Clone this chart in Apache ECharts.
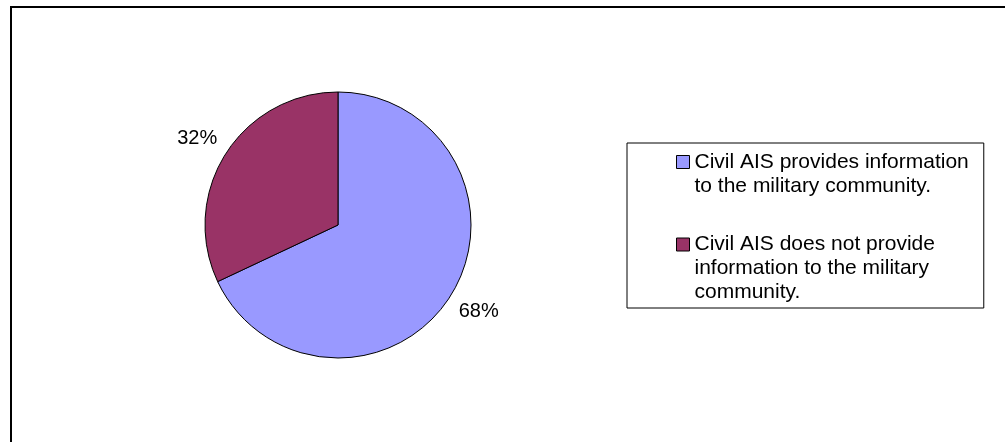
<!DOCTYPE html>
<html><head><meta charset="utf-8">
<script src="https://cdn.jsdelivr.net/npm/echarts@6/dist/echarts.min.js"></script>
<style>html,body{margin:0;padding:0;background:#fff}#c{width:1005px;height:442px}</style>
</head><body><div id="c"></div>
<script>
const categories = [
  'Civil AIS provides information\nto the military community.',
  'Civil AIS does not provide\ninformation to the military\ncommunity.'
];
const shares = [68, 32];
const sliceColors = ['#9999FF', '#993366'];

const chart = echarts.init(document.getElementById('c'), null, {renderer: 'canvas'});
const CX = 338, CY = 225, R = 133, LABEL_GAP = 10;
const total = shares.reduce((a, b) => a + b, 0);
function midAngle(i) {
  let before = 0;
  for (let k = 0; k < i; k++) before += shares[k];
  return (before + shares[i] / 2) / total * 2 * Math.PI;
}
const option = {
  animation: false,
  backgroundColor: '#fff',
  textStyle: {fontFamily: '"Liberation Sans", Arial, sans-serif'},
  graphic: [{
    type: 'rect', silent: true, z: -1,
    shape: {x: 11, y: 7, width: 1100, height: 600},
    style: {fill: 'none', stroke: '#000', lineWidth: 2}
  }],
  legend: {
    orient: 'vertical', left: 627, top: 143,
    padding: [7, 15, 5, 49],
    borderColor: '#000', borderWidth: 1,
    itemWidth: 13, itemHeight: 13, itemGap: 36,
    icon: 'rect', selectedMode: false,
    itemStyle: {borderColor: '#000', borderWidth: 1},
    textStyle: {fontSize: 21, color: '#000', lineHeight: 24, height: 24, rich: {r: {}}},
    data: categories
  },
  series: [{
    type: 'pie', center: [CX, CY], radius: R, startAngle: 90, clockwise: true,
    data: categories.map((n, i) => ({name: n, value: shares[i], itemStyle: {color: sliceColors[i]}})),
    itemStyle: {borderColor: '#000', borderWidth: 1},
    label: {show: true, position: 'outside', formatter: p => Math.round(p.percent) + '%', fontSize: 20, color: '#000'},
    labelLine: {show: false},
    labelLayout: function (p) {
      const a = midAngle(p.dataIndex);
      const dx = Math.sin(a), dy = -Math.cos(a);
      const w = p.labelRect.width, h = p.labelRect.height;
      return {
        x: CX + (R + LABEL_GAP) * dx + Math.sign(dx) * w / 2,
        y: CY + (R + LABEL_GAP) * dy + Math.sign(dy) * h / 2,
        align: 'center', verticalAlign: 'middle'
      };
    },
    emphasis: {disabled: true}
  }]
};
chart.setOption(option);
</script></body></html>
